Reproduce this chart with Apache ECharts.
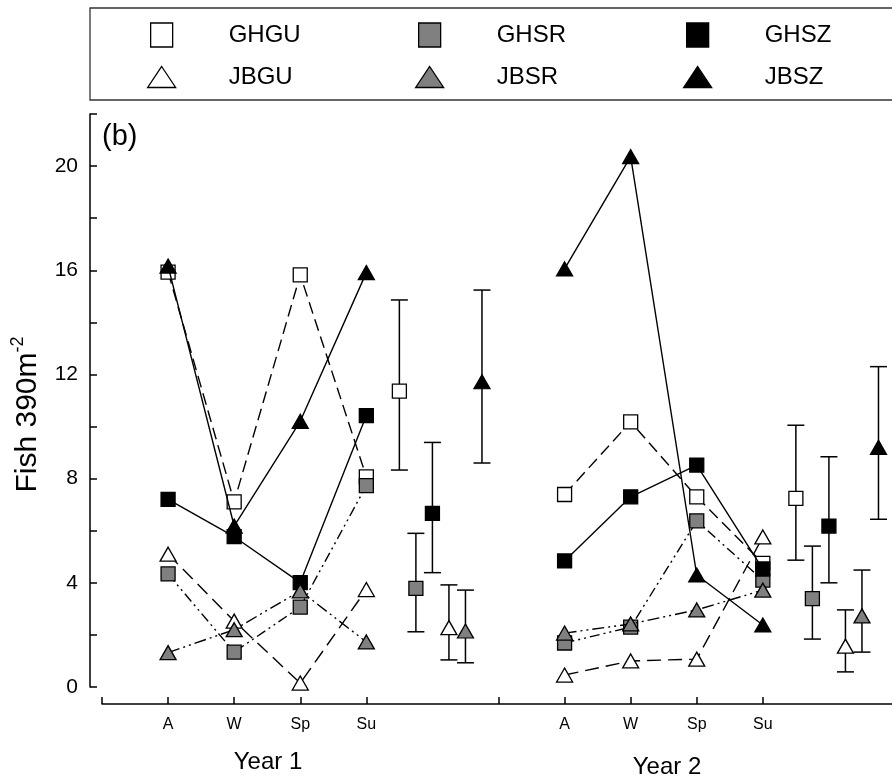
<!DOCTYPE html>
<html><head><meta charset="utf-8">
<script src="https://cdn.jsdelivr.net/npm/echarts@6/dist/echarts.min.js"></script>
<style>html,body{margin:0;padding:0;background:#fff}#c{width:892px;height:783px}</style>
</head><body><div id="c"></div>
<script>
// ---------- data ----------
const seasons = ['A', 'W', 'Sp', 'Su'];
const year1X = [1, 2, 3, 4];
const year2X = [7, 8, 9, 10];
const groupNames = ['GHGU', 'GHSR', 'GHSZ', 'JBGU', 'JBSR', 'JBSZ'];

const GHGU_year1 = [15.93, 7.11, 15.82, 8.07];
const GHGU_year2 = [7.39, 10.18, 7.3, 4.75];
const GHSR_year1 = [4.34, 1.34, 3.07, 7.73];
const GHSR_year2 = [1.69, 2.3, 6.38, 4.1];
const GHSZ_year1 = [7.2, 5.77, 4.01, 10.42];
const GHSZ_year2 = [4.84, 7.3, 8.52, 4.53];
const JBGU_year1 = [5.1, 2.53, 0.15, 3.74];
const JBGU_year2 = [0.46, 1.0, 1.07, 5.76];
const JBSR_year1 = [1.32, 2.2, 3.69, 1.73];
const JBSR_year2 = [2.07, 2.42, 2.96, 3.72];
const JBSZ_year1 = [16.16, 6.18, 10.2, 15.91];
const JBSZ_year2 = [16.05, 20.36, 4.3, 2.38];

// overall means with error bars (order = groupNames)
const meanX_year1 = [4.5, 4.75, 5.0, 5.25, 5.5, 5.75];
const meanX_year2 = [10.5, 10.75, 11.0, 11.25, 11.5, 11.75];
const mean_year1 = [11.36, 3.79, 6.67, 2.28, 2.15, 11.72];
const low_year1  = [8.33, 2.12, 4.39, 1.04, 0.93, 8.6];
const high_year1 = [14.86, 5.9, 9.39, 3.92, 3.72, 15.24];
const mean_year2 = [7.24, 3.39, 6.18, 1.57, 2.73, 9.2];
const low_year2  = [4.87, 1.84, 4.0, 0.58, 1.34, 6.44];
const high_year2 = [10.05, 5.41, 8.84, 2.96, 4.49, 12.3];

const yTickValues = [0, 2, 4, 6, 8, 10, 12, 14, 16, 18, 20, 22];
const yLabelValues = [0, 4, 8, 12, 16, 20];
const xTickValues = [0, 1, 2, 3, 4, 6, 7, 8, 9, 10, 12];
const yearLabels = ['Year 1', 'Year 2'];

// ---------- styles ----------
const FONT = '"Liberation Sans", Arial, sans-serif';
const styleOf = {
  GHGU: { symbol: 'rect', fill: '#ffffff', dash: [12, 6] },
  GHSR: { symbol: 'rect', fill: '#808080', dash: [10, 4, 2, 4, 2, 4] },
  GHSZ: { symbol: 'rect', fill: '#000000', dash: 'solid' },
  JBGU: { symbol: 'triangle', fill: '#ffffff', dash: [14, 7] },
  JBSR: { symbol: 'triangle', fill: '#808080', dash: [12, 4, 2, 4, 2, 4] },
  JBSZ: { symbol: 'triangle', fill: '#000000', dash: 'solid' }
};
const seasonal = {
  GHGU: [GHGU_year1, GHGU_year2], GHSR: [GHSR_year1, GHSR_year2], GHSZ: [GHSZ_year1, GHSZ_year2],
  JBGU: [JBGU_year1, JBGU_year2], JBSR: [JBSR_year1, JBSR_year2], JBSZ: [JBSZ_year1, JBSZ_year2]
};
function symSize(sym) { return sym === 'rect' ? 14 : [16, 14]; }

const series = [];
groupNames.forEach((g, gi) => {
  const st = styleOf[g];
  [year1X, year2X].forEach((xs, yi) => {
    const vals = seasonal[g][yi];
    series.push({
      type: 'line', name: g, z: 3 + gi * 0.01,
      data: xs.map((x, i) => [x, vals[i]]),
      symbol: st.symbol, symbolSize: symSize(st.symbol),
      itemStyle: { color: st.fill, borderColor: '#000', borderWidth: 1.3 },
      lineStyle: { color: '#000', width: 1.4, type: st.dash },
      emphasis: { disabled: true }, animation: false
    });
  });
  // error bars
  const ebData = [
    [meanX_year1[gi], low_year1[gi], high_year1[gi]],
    [meanX_year2[gi], low_year2[gi], high_year2[gi]]
  ];
  series.push({
    type: 'custom', name: g, z: 2, animation: false,
    data: ebData, encode: { x: 0, y: [1, 2] },
    renderItem: function (params, api) {
      const x = api.value(0), lo = api.value(1), hi = api.value(2);
      const a = api.coord([x, lo]), b = api.coord([x, hi]);
      const hw = 8.5;
      const ls = { stroke: '#000', lineWidth: 1.5 };
      return { type: 'group', children: [
        { type: 'line', shape: { x1: a[0], y1: a[1], x2: b[0], y2: b[1] }, style: ls },
        { type: 'line', shape: { x1: a[0] - hw, y1: a[1], x2: a[0] + hw, y2: a[1] }, style: ls },
        { type: 'line', shape: { x1: b[0] - hw, y1: b[1], x2: b[0] + hw, y2: b[1] }, style: ls }
      ]};
    }
  });
  series.push({
    type: 'scatter', name: g, z: 4, animation: false,
    data: [[meanX_year1[gi], mean_year1[gi]], [meanX_year2[gi], mean_year2[gi]]],
    symbol: st.symbol, symbolSize: symSize(st.symbol),
    itemStyle: { color: st.fill, borderColor: '#000', borderWidth: 1.3, opacity: 1 },
    emphasis: { disabled: true }
  });
});

// legend: one component per entry to place them in a 3x2 grid
const legendCols = [161, 429, 697];
const legendRows = [35, 77];
const legends = groupNames.map((g, i) => {
  const st = styleOf[g];
  const isRect = st.symbol === 'rect';
  const w = isRect ? 22 : 28, h = isRect ? 24 : 21;
  const cx = legendCols[i % 3], cy = legendRows[Math.floor(i / 3)];
  return {
    data: [{ name: g, icon: st.symbol, itemStyle: { color: st.fill, borderColor: '#000', borderWidth: 1.3 } }],
    left: cx - w / 2, top: cy - 13, padding: 0,
    itemWidth: w, itemHeight: h, selectedMode: false,
    textStyle: { fontSize: 24, color: '#000', fontFamily: FONT, lineHeight: 26,
                 padding: [0, 0, 0, (67 - w / 2 - 5)] }
  };
});

const option = {
  backgroundColor: '#fff',
  animation: false,
  textStyle: { fontFamily: FONT },
  legend: legends,
  grid: { left: 102, top: 114, width: 793, height: 573, containLabel: false, outerBoundsMode: 'none' },
  xAxis: {
    type: 'value', min: 0, max: 12, offset: 17,
    splitLine: { show: false },
    axisLine: { show: true, onZero: false, lineStyle: { color: '#000', width: 1.5 } },
    axisTick: { show: true, inside: true, length: 7, customValues: xTickValues, lineStyle: { color: '#000', width: 1.5 } },
    axisLabel: {
      customValues: year1X.concat(year2X), margin: 13, fontSize: 16, color: '#000', fontFamily: FONT,
      formatter: function (v) {
        let i = year1X.indexOf(v); if (i < 0) i = year2X.indexOf(v);
        return i >= 0 ? seasons[i] : '';
      }
    }
  },
  yAxis: {
    type: 'value', min: 0, max: 22, offset: 12,
    splitLine: { show: false },
    axisLine: { show: true, onZero: false, lineStyle: { color: '#000', width: 1.5 } },
    axisTick: { show: true, inside: true, length: 7, customValues: yTickValues, lineStyle: { color: '#000', width: 1.5 } },
    axisLabel: { customValues: yLabelValues, margin: 12, fontSize: 21, color: '#000', fontFamily: FONT },
    name: '{n|Fish 390m}{s|-2}', nameLocation: 'middle', nameGap: 47, nameRotate: 90,
    nameTextStyle: {
      color: '#000', fontFamily: FONT, padding: [0, 28, 0, 0],
      rich: {
        n: { fontSize: 30, lineHeight: 34, color: '#000', fontFamily: FONT, verticalAlign: 'bottom' },
        s: { fontSize: 18, lineHeight: 34, color: '#000', fontFamily: FONT, verticalAlign: 'top', padding: [0, 0, 14, 0] }
      }
    }
  },
  graphic: [
    { type: 'rect', shape: { x: 90, y: 8, width: 820, height: 92 }, style: { fill: 'none', stroke: '#333', lineWidth: 1.3 }, silent: true },
    { type: 'text', left: 102, top: 122, style: { text: '(b)', fontSize: 29, fill: '#000', fontFamily: FONT } },
    { type: 'text', x: 268, y: 774, style: { text: yearLabels[0], fontSize: 24, fill: '#000', fontFamily: FONT, textAlign: 'center', textVerticalAlign: 'bottom' } },
    { type: 'text', x: 667, y: 779, style: { text: yearLabels[1], fontSize: 24, fill: '#000', fontFamily: FONT, textAlign: 'center', textVerticalAlign: 'bottom' } }
  ],
  series: series
};

const chart = echarts.init(document.getElementById('c'), null, { renderer: 'canvas' });
chart.setOption(option);
</script>
</body></html>
